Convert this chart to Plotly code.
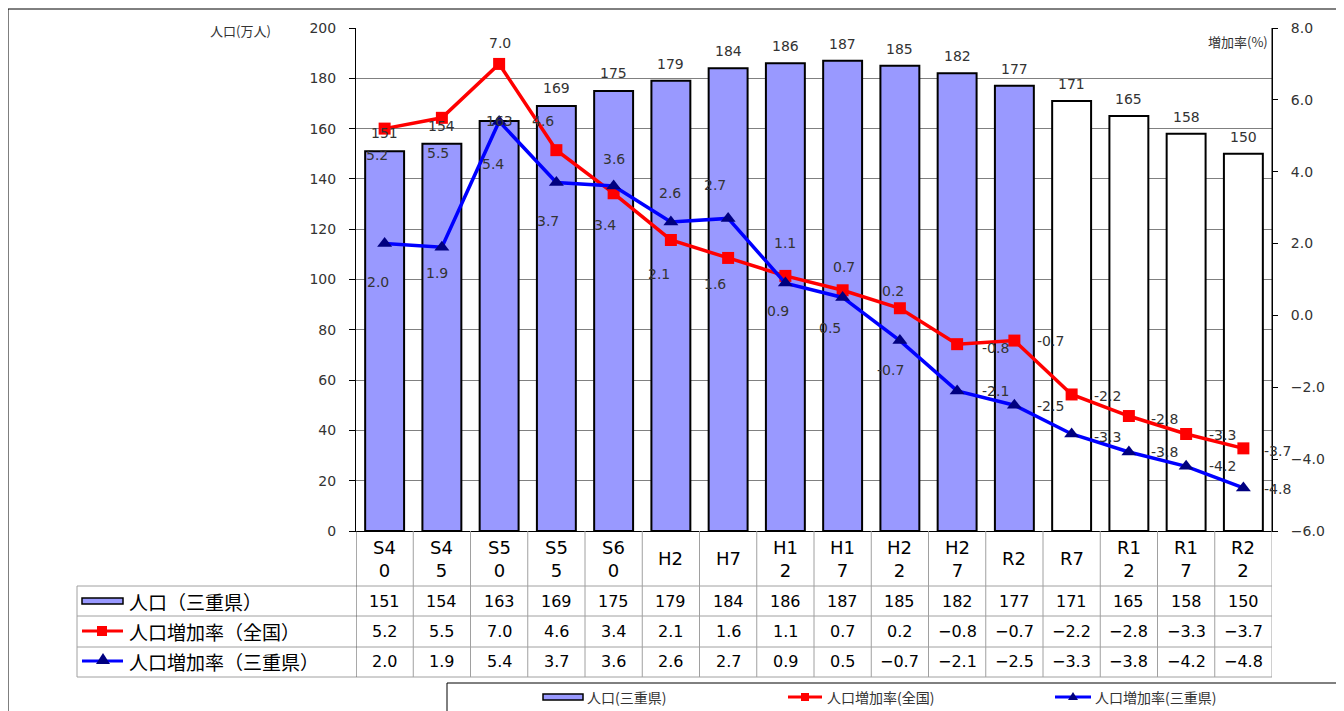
import plotly.graph_objects as go

# ---------------- data ----------------
categories = ["S40", "S45", "S50", "S55", "S60", "H2", "H7", "H12", "H17", "H22",
              "H27", "R2", "R7", "R12", "R17", "R22"]
population_mie = [151, 154, 163, 169, 175, 179, 184, 186, 187, 185, 182, 177, 171, 165, 158, 150]
growth_national = [5.2, 5.5, 7.0, 4.6, 3.4, 2.1, 1.6, 1.1, 0.7, 0.2, -0.8, -0.7, -2.2, -2.8, -3.3, -3.7]
growth_mie = [2.0, 1.9, 5.4, 3.7, 3.6, 2.6, 2.7, 0.9, 0.5, -0.7, -2.1, -2.5, -3.3, -3.8, -4.2, -4.8]
first_projection = "R7"   # projected values from here on (white bars)

series_names = ["人口（三重県）", "人口増加率（全国）", "人口増加率（三重県）"]
legend_names = ["人口(三重県)", "人口増加率(全国)", "人口増加率(三重県)"]
left_title = "人口(万人)"
right_title = "増加率(%)"

# ---------------- style ----------------
OFF = 8                                   # page body margin of the html page
W, H = 1344 - OFF, 711 - OFF
L, R, T, B = 356, 1272, 28, 531          # plot area in window pixels
BAR_FILL = "#9999FF"
RED = "#FF0000"
BLUE = "#0000FF"
NAVY = "#000080"
GRID = "#808080"
TXT = "#333333"
NUM_FONT = "DejaVu Sans"
JP_FONT = "Noto Sans CJK JP"

# label offsets in screen pixels (dx, dy; dy positive = downward)
bar_label_dy = [18, 18, 0, 18, 18, 17, 17, 17, 17, 17, 17, 17, 17, 17, 17, 17]
red_label_off = [(-8, 26), (-4, 35), (1, -21), (-13, -29), (-9, 32), (-12, 34), (-13, 26), (0, -33),
                 (1, -23), (-7, -17), (38, 4), (36, 0), (36, 2), (36, 3), (36, 1), (34, 3)]
blue_label_off = [(-7, 38), (-5, 26), (-6, 43), (-8, 39), (0, -27), (-1, -29), (-13, -33), (-7, 28),
                  (-13, 31), (-9, 29), (38, 0), (36, 1), (36, 3), (36, 0), (36, 0), (34, 1)]


def px(p):
    return (p - L) / (R - L)


def py(p):
    return (B - p) / (B - T)


def paper_text(x, y, text, size, color=TXT, family=JP_FONT, xanchor="center"):
    return dict(x=px(x), y=py(y), xref="paper", yref="paper", text=text, showarrow=False,
                xanchor=xanchor, yanchor="middle", font=dict(family=family, size=size, color=color))


proj_idx = categories.index(first_projection)
bar_colors = [BAR_FILL if i < proj_idx else "white" for i in range(len(categories))]

fig = go.Figure()
fig.add_trace(go.Bar(
    x=categories, y=population_mie, name=series_names[0],
    marker=dict(color=bar_colors, line=dict(color="black", width=2)),
    width=0.68, yaxis="y", hoverinfo="x+y"))
fig.add_trace(go.Scatter(
    x=categories, y=growth_national, name=series_names[1], yaxis="y2",
    mode="lines+markers", line=dict(color=RED, width=3.5),
    marker=dict(symbol="square", size=12, color=RED)))
fig.add_trace(go.Scatter(
    x=categories, y=growth_mie, name=series_names[2], yaxis="y2",
    mode="lines+markers", line=dict(color=BLUE, width=3.5),
    marker=dict(symbol="triangle-up", size=13, color=NAVY)))

ann = []
# bar value labels
for c, v, dy in zip(categories, population_mie, bar_label_dy):
    ann.append(dict(x=c, y=v, xref="x", yref="y", text=str(v), showarrow=False,
                    xanchor="center", yanchor="middle",
                    yshift=dy, font=dict(family=NUM_FONT, size=14, color=TXT)))


def fmt_chart(v):
    return f"{v:.1f}"


for c, v, (dx, dy) in zip(categories, growth_national, red_label_off):
    ann.append(dict(x=c, y=v, xref="x", yref="y2", text=fmt_chart(v), showarrow=False,
                    xanchor="center", yanchor="middle",
                    xshift=dx, yshift=-dy, font=dict(family=NUM_FONT, size=14, color=TXT)))
for c, v, (dx, dy) in zip(categories, growth_mie, blue_label_off):
    ann.append(dict(x=c, y=v, xref="x", yref="y2", text=fmt_chart(v), showarrow=False,
                    xanchor="center", yanchor="middle",
                    xshift=dx, yshift=-dy, font=dict(family=NUM_FONT, size=14, color=TXT)))

# axis titles
ann.append(paper_text(240, 30, left_title, 13))
ann.append(paper_text(1270, 41, right_title, 13, xanchor="right"))

# ---------------- data table ----------------
row_header_y = (531 + 586) / 2
row_y = [601, 631.5, 662]


def header_text(c):
    return c if len(c) <= 2 else c[:2] + "<br>" + c[2:]


def fmt_table(v):
    return f"{v:.1f}".replace("-", "−")


for i, c in enumerate(categories):
    ann.append(dict(x=c, y=py(row_header_y), xref="x", yref="paper", text=header_text(c),
                    showarrow=False, xanchor="center", yanchor="middle",
                    font=dict(family=NUM_FONT, size=18, color="black")))
    for ry, txt in zip(row_y, [str(population_mie[i]), fmt_table(growth_national[i]),
                               fmt_table(growth_mie[i])]):
        ann.append(dict(x=c, y=py(ry), xref="x", yref="paper", text=txt, showarrow=False,
                        xanchor="center", yanchor="middle",
                        font=dict(family=NUM_FONT, size=16, color="black")))
for ry, name in zip(row_y, series_names):
    ann.append(paper_text(127, ry, name, 19, color="black", xanchor="left"))

shapes = []
TL = "#A0A0A0"


def pline(x0, y0, x1, y1, color, width):
    return dict(type="line", xref="paper", yref="paper", x0=px(x0), x1=px(x1),
                y0=py(y0), y1=py(y1), line=dict(color=color, width=width))


def prect(x0, y0, x1, y1, fill, lc, lw):
    return dict(type="rect", xref="paper", yref="paper", x0=px(x0), x1=px(x1),
                y0=py(y0), y1=py(y1), fillcolor=fill, line=dict(color=lc, width=lw))


def ptri(cx, ybase, ytop, half, color):
    return dict(type="path", xref="paper", yref="paper",
                path=f"M {px(cx - half)} {py(ybase)} L {px(cx + half)} {py(ybase)} L {px(cx)} {py(ytop)} Z",
                fillcolor=color, line=dict(color=color, width=0))


# horizontal table lines
for yy in [586, 616, 647, 677]:
    shapes.append(pline(77, yy, R, yy, TL, 1))
# vertical lines at category boundaries
for k in range(len(categories) + 1):
    shapes.append(dict(type="line", xref="x", yref="paper", x0=k - 0.5, x1=k - 0.5,
                       y0=py(531), y1=py(677),
                       line=dict(color="#555555" if k == 0 else TL, width=1)))
shapes.append(pline(77, 586, 77, 677, TL, 1))

# legend keys in the table
shapes.append(prect(82, 598, 123, 604, BAR_FILL, "black", 1.5))
shapes.append(pline(82, 631, 123, 631, RED, 3))
shapes.append(prect(97, 626, 107, 636, RED, RED, 0))
shapes.append(pline(82, 661, 123, 661, BLUE, 3))
shapes.append(ptri(103, 664, 653, 7, NAVY))

# ---------------- bottom legend ----------------
shapes.append(prect(447, 683, 1338, 725, "rgba(0,0,0,0)", "black", 1))
LY = 697
shapes.append(prect(543, LY - 3, 583, LY + 3, BAR_FILL, "black", 1.5))
shapes.append(pline(788, LY, 822, LY, RED, 3))
shapes.append(prect(801, LY - 4, 809, LY + 4, RED, RED, 0))
shapes.append(pline(1055, LY, 1091, LY, BLUE, 3))
shapes.append(ptri(1073, LY + 3, LY - 5, 5, NAVY))
for xx, name in zip([585, 825, 1093], legend_names):
    ann.append(paper_text(xx, LY, name, 14, xanchor="left"))

# outer frame
shapes.append(pline(8, 9, 1338, 9, "black", 1))
shapes.append(pline(8, 9, 8, 712, "black", 1))
shapes.append(pline(1338, 9, 1338, 712, "black", 1))
# right border of plot
shapes.append(dict(type="line", xref="paper", yref="paper", x0=1, x1=1, y0=0, y1=1,
                   line=dict(color="black", width=1)))

fig.update_layout(
    width=W, height=H,
    margin=dict(l=L - OFF, r=(W + OFF) - R, t=T - OFF, b=(H + OFF) - B, pad=0),
    paper_bgcolor="white", plot_bgcolor="white",
    showlegend=False,
    xaxis=dict(type="category", categoryorder="array", categoryarray=categories,
               range=[-0.5, len(categories) - 0.5], showticklabels=False, ticks="",
               showgrid=False, showline=True, linecolor="black", linewidth=1, zeroline=False),
    yaxis=dict(range=[0, 200], dtick=20, showgrid=True, gridcolor=GRID, gridwidth=1,
               ticks="outside", ticklen=6, tickcolor="black", showline=True, linecolor="black",
               zeroline=False, ticklabelstandoff=10,
               tickfont=dict(family=NUM_FONT, size=14, color=TXT)),
    yaxis2=dict(range=[-6, 8], dtick=2, tickformat=".1f", overlaying="y", side="right",
                showgrid=False, zeroline=False, ticks="outside", ticklen=5, tickcolor="black",
                showline=True, linecolor="black", ticklabelstandoff=10,
                tickfont=dict(family=NUM_FONT, size=14, color=TXT)),
    annotations=ann,
    shapes=shapes,
)

fig.write_html("out.html")
